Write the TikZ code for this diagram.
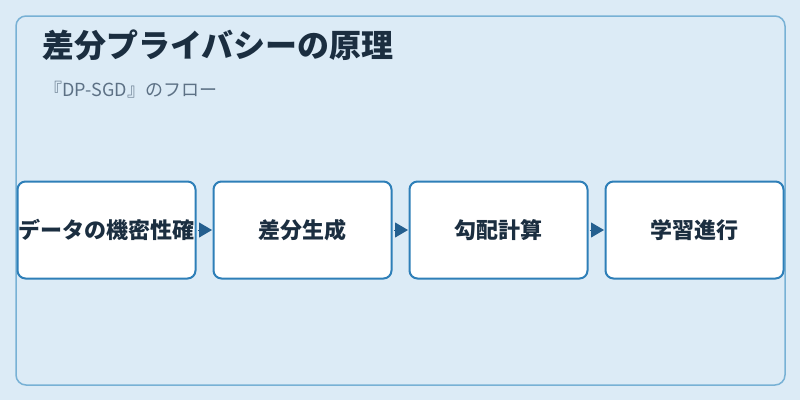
\documentclass[tikz,border=0pt]{standalone}
\usepackage{fontspec}
\setmainfont{Noto Sans CJK JP}
\usetikzlibrary{arrows.meta}
\definecolor{pagebg}{HTML}{DCEBF6}
\definecolor{framecol}{HTML}{78B1D5}
\definecolor{boxcol}{HTML}{2E7FB8}
\definecolor{arrowcol}{HTML}{245F8F}
\definecolor{titlecol}{HTML}{1B2E40}
\definecolor{subcol}{HTML}{5D7185}

\begin{document}
\begin{tikzpicture}[x=1pt,y=-1pt,
    flowbox/.style={draw=boxcol, line width=2pt, fill=white, rounded corners=8pt,
        minimum width=178pt, minimum height=97pt, inner sep=0pt,
        text=titlecol, font=\fontsize{22}{26}\selectfont\bfseries},
    flowarrow/.style={draw=arrowcol, line width=1pt, shorten <=1pt, shorten >=0.5pt,
        -{Triangle[length=13pt,width=15pt]}}]
                \useasboundingbox[fill=pagebg] (0,0) rectangle (800,400);
                \draw[draw=framecol, line width=1.5pt, rounded corners=10pt] (16,16) rectangle (785,385);
                
                \node[anchor=base west, text=titlecol, font=\fontsize{32}{36}\selectfont\bfseries] (title) at (39,57) {差分プライバシーの原理};
                \node[anchor=base west, text=subcol, font=\fontsize{18}{22}\selectfont] (subtitle) at (41,96) {『DP-SGD』のフロー};
                
                \foreach \f [count=\i] in {データの機密性確, 差分生成, 勾配計算, 学習進行} {
                    \node[flowbox] (s\i) at (106.5+196*\i-196,230) {\f};
                }
                
                % arrows between the boxes
                \foreach \i [count=\j from 2] in {1,2,3} {
                    \draw[flowarrow] (s\i.east) -- (s\j.west);
                }
            \end{tikzpicture}
\end{document}
